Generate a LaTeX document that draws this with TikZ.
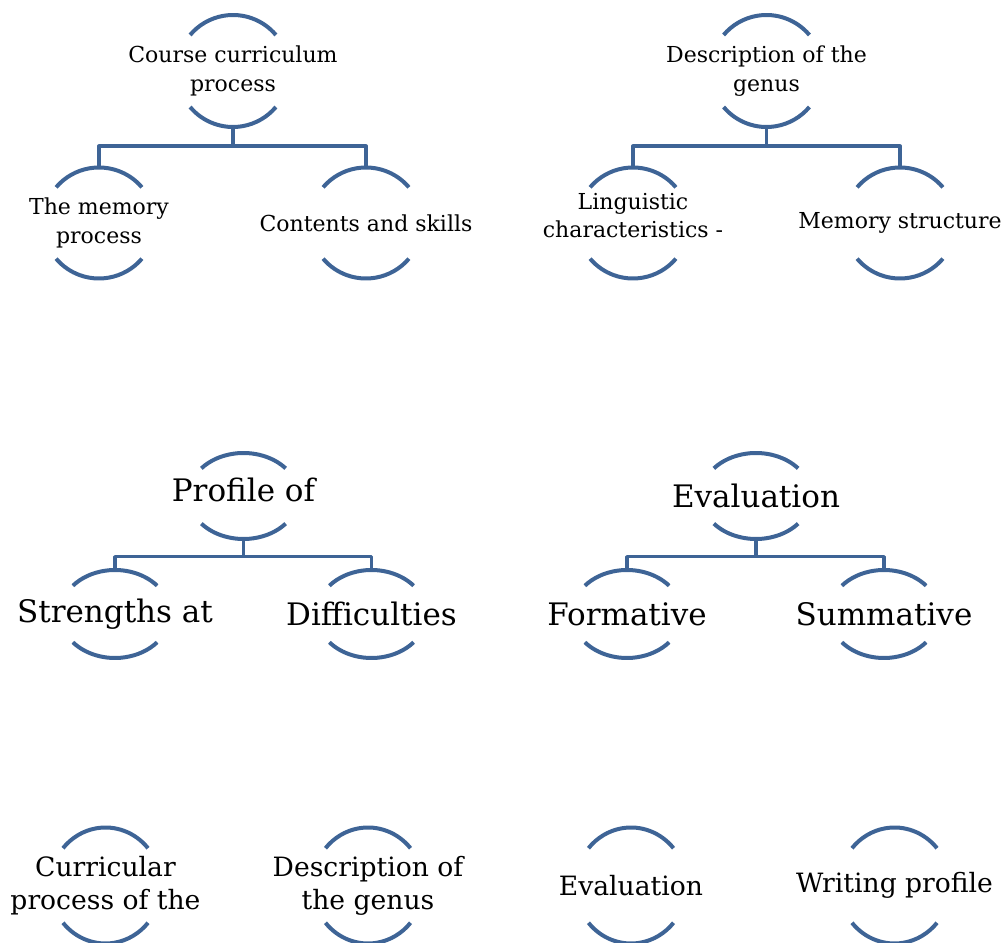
\documentclass[tikz,border=0pt]{standalone}
\usepackage{fontspec}
\setmainfont{DejaVu Serif}
\definecolor{ringblue}{RGB}{62,100,150}
\begin{document}
\begin{tikzpicture}[x=1pt,y=1pt,
  ring/.style={draw=ringblue,line width=4pt},
  link/.style={draw=ringblue,line width=3.6pt,line join=round},
  toptext/.style={align=center,inner sep=0pt,minimum width=112pt,minimum height=112pt,font=\fontsize{22}{28.5}\selectfont},
  midtext/.style={align=center,inner sep=0pt,minimum width=110pt,minimum height=87pt,font=\fontsize{31}{40}\selectfont},
  lowtext/.style={align=center,inner sep=0pt,minimum width=111pt,minimum height=116pt,font=\fontsize{26.6}{33}\selectfont}]
\useasboundingbox (0,0) rectangle (1005,943);
\node[toptext] (cc) at (233,872) {Course curriculum\\process};
\node[toptext] (mem) at (99,720) {The memory\\process};
\node[toptext] (cs) at (366,720) {Contents and skills};
\node[toptext] (dg) at (766.5,872) {Description of the\\genus};
\node[toptext,text depth=15pt] (ling) at (633,720) {Linguistic\\characteristics -};
\node[toptext] (ms) at (900,720) {Memory structure};
\node[midtext,text depth=12pt] (prof) at (243.5,447) {Profile of};
\node[midtext] (str) at (115,329) {Strengths at};
\node[midtext] (dif) at (371.5,329) {Difficulties};
\node[midtext] (ev) at (756,447) {Evaluation};
\node[midtext] (form) at (627,329) {Formative};
\node[midtext] (sum) at (884,329) {Summative};
\node[lowtext] (curr) at (105.5,57.5) {Curricular\\process of the};
\node[lowtext] (desc) at (368,57.5) {Description of\\the genus};
\node[lowtext] (eval) at (631,57.5) {Evaluation};
\node[lowtext] (wprof) at (894.5,57.5) {Writing profile};
\foreach \n/\rx/\ry in {cc/56/56, mem/56/55.5, cs/56/55.5, dg/56/56, ling/56/55.5, ms/56/55.5,
  prof/55/43, str/55/44, dif/55/44, ev/55/43, form/55/44, sum/55/44,
  curr/55.5/58, desc/55.5/58, eval/55.5/58, wprof/55.5/58} {
  \path[ring] (\n.center) ++({\rx*cos(40)},{\ry*sin(40)}) arc[start angle=40,end angle=140,x radius=\rx,y radius=\ry];
  \path[ring] (\n.center) ++({\rx*cos(220)},{\ry*sin(220)}) arc[start angle=220,end angle=320,x radius=\rx,y radius=\ry];
}
\foreach \p/\c/\h in {cc/mem/19, cc/cs/19, dg/ling/19, dg/ms/19, prof/str/17, prof/dif/17, ev/form/17, ev/sum/17}
  \path[link] (\p.south) -- ++(0,-\h) -| (\c.north);
\end{tikzpicture}
\end{document}
